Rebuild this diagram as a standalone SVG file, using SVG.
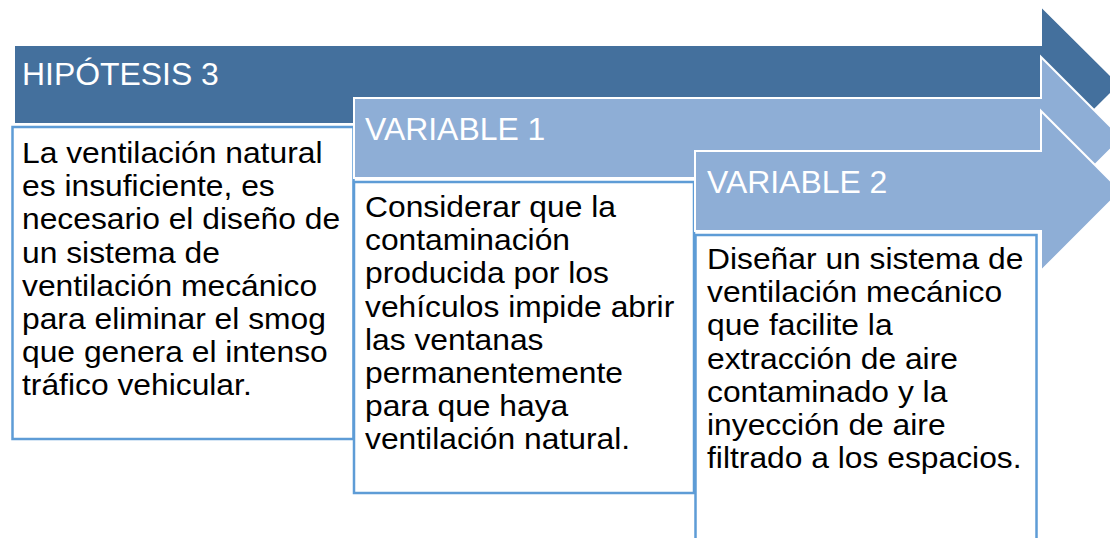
<svg xmlns="http://www.w3.org/2000/svg" width="1110" height="538" viewBox="0 0 1110 538">
<style>
.arrow-dark{fill:#44709D;stroke:#FFFFFF;stroke-width:2}
.arrow-light{fill:#8EAED6;stroke:#FFFFFF;stroke-width:2}
.box{fill:#FFFFFF;stroke:#5E9CD6;stroke-width:2.5}
.hdr{font-family:"Liberation Sans",Arial,sans-serif;font-size:31px;fill:#FFFFFF}
.body{font-family:"Liberation Sans",Arial,sans-serif;font-size:30px;fill:#000000}
</style>
<rect width="1110" height="538" fill="#FFFFFF"/>
<g id="hipotesis3">
<polygon class="arrow-dark" points="14,45 1041,45 1041,6 1120,84.5 1041,163 1041,124 14,124"/>
<rect class="box" x="12.5" y="127" width="341" height="312"/>
<text class="hdr" transform="translate(22,85) scale(1.03,1)">HIPÓTESIS 3</text>
<text class="body" transform="translate(22,163) scale(1.06,1)"><tspan x="0" y="0">La ventilación natural</tspan><tspan x="0" y="33.2">es insuficiente, es</tspan><tspan x="0" y="66.4">necesario el diseño de</tspan><tspan x="0" y="99.6">un sistema de</tspan><tspan x="0" y="132.8">ventilación mecánico</tspan><tspan x="0" y="166">para eliminar el smog</tspan><tspan x="0" y="199.2">que genera el intenso</tspan><tspan x="0" y="232.4">tráfico vehicular.</tspan></text>
</g>
<g id="variable1">
<polygon class="arrow-light" points="354,98 1041,98 1041,57 1122,138 1041,219 1041,178 354,178"/>
<rect class="box" x="354" y="182" width="340" height="311"/>
<text class="hdr" transform="translate(365,140) scale(1.03,1)">VARIABLE 1</text>
<text class="body" transform="translate(365,217) scale(1.06,1)"><tspan x="0" y="0">Considerar que la</tspan><tspan x="0" y="33.2">contaminación</tspan><tspan x="0" y="66.4">producida por los</tspan><tspan x="0" y="99.6">vehículos impide abrir</tspan><tspan x="0" y="132.8">las ventanas</tspan><tspan x="0" y="166">permanentemente</tspan><tspan x="0" y="199.2">para que haya</tspan><tspan x="0" y="232.4">ventilación natural.</tspan></text>
</g>
<g id="variable2">
<polygon class="arrow-light" points="695,151 1041,151 1041,111 1121,191 1041,271 1041,231 695,231"/>
<rect class="box" x="695.5" y="235" width="341" height="320"/>
<text class="hdr" transform="translate(707,193) scale(1.03,1)">VARIABLE 2</text>
<text class="body" transform="translate(707,269) scale(1.06,1)"><tspan x="0" y="0">Diseñar un sistema de</tspan><tspan x="0" y="33.2">ventilación mecánico</tspan><tspan x="0" y="66.4">que facilite la</tspan><tspan x="0" y="99.6">extracción de aire</tspan><tspan x="0" y="132.8">contaminado y la</tspan><tspan x="0" y="166">inyección de aire</tspan><tspan x="0" y="199.2">filtrado a los espacios.</tspan></text>
</g>
<g id="connectors"></g>
</svg>
